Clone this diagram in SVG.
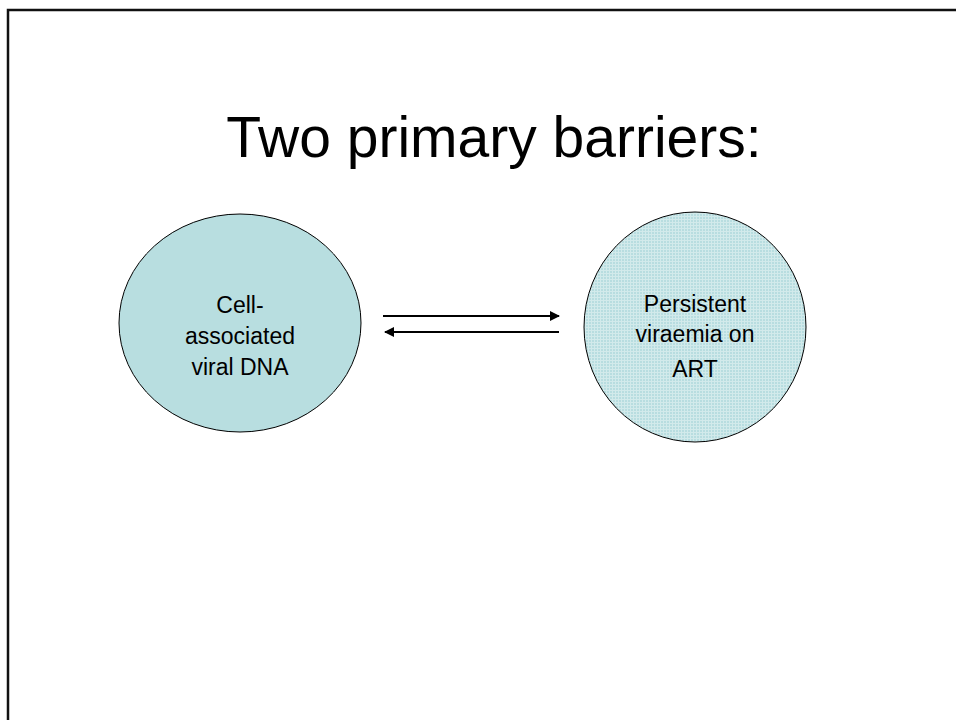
<svg xmlns="http://www.w3.org/2000/svg" width="956" height="720" viewBox="0 0 956 720">
  <defs>
    <style>
      .title { font-family: "Liberation Sans", Arial, sans-serif; font-size: 57px; fill: #000; }
      .lbl { font-family: "Liberation Sans", Arial, sans-serif; font-size: 23px; fill: #000; text-anchor: middle; }
      .node { stroke: #000; stroke-width: 1; }
      .conn { stroke: #000; stroke-width: 2; fill: none; }
    </style>
    <pattern id="grid" width="3" height="3" patternUnits="userSpaceOnUse">
      <rect width="3" height="3" fill="#B8DDE0"/>
      <path d="M0,0.5 H3 M0.5,0 V3" stroke="#DDEFF0" stroke-width="1" opacity="0.7"/>
    </pattern>
    <marker id="ah" viewBox="0 0 10 10" refX="9" refY="5" markerWidth="5" markerHeight="5" orient="auto" markerUnits="strokeWidth">
      <path d="M0,0 L10,5 L0,10 Z" fill="#000"/>
    </marker>
  </defs>
  <rect width="956" height="720" fill="#fff"/>
  <path d="M8,720 V10 H956" fill="none" stroke="#111" stroke-width="2.5"/>
  <text class="title" x="494" y="157" text-anchor="middle">Two primary barriers:</text>
  <g id="node-cell-dna">
    <ellipse class="node" cx="240" cy="323" rx="121" ry="109" fill="#B8DEE0"/>
    <text class="lbl" x="240" y="313">Cell-</text>
    <text class="lbl" x="240" y="344">associated</text>
    <text class="lbl" x="240" y="375">viral DNA</text>
  </g>
  <g id="node-viraemia">
    <ellipse class="node" cx="695" cy="327" rx="111" ry="115" fill="url(#grid)"/>
    <text class="lbl" x="695" y="312">Persistent</text>
    <text class="lbl" x="695" y="342">viraemia on</text>
    <text class="lbl" x="695" y="377">ART</text>
  </g>
  <g id="connectors">
    <line class="conn" x1="383" y1="316" x2="559" y2="316" marker-end="url(#ah)"/>
    <line class="conn" x1="559" y1="332" x2="385" y2="332" marker-end="url(#ah)"/>
  </g>
</svg>
